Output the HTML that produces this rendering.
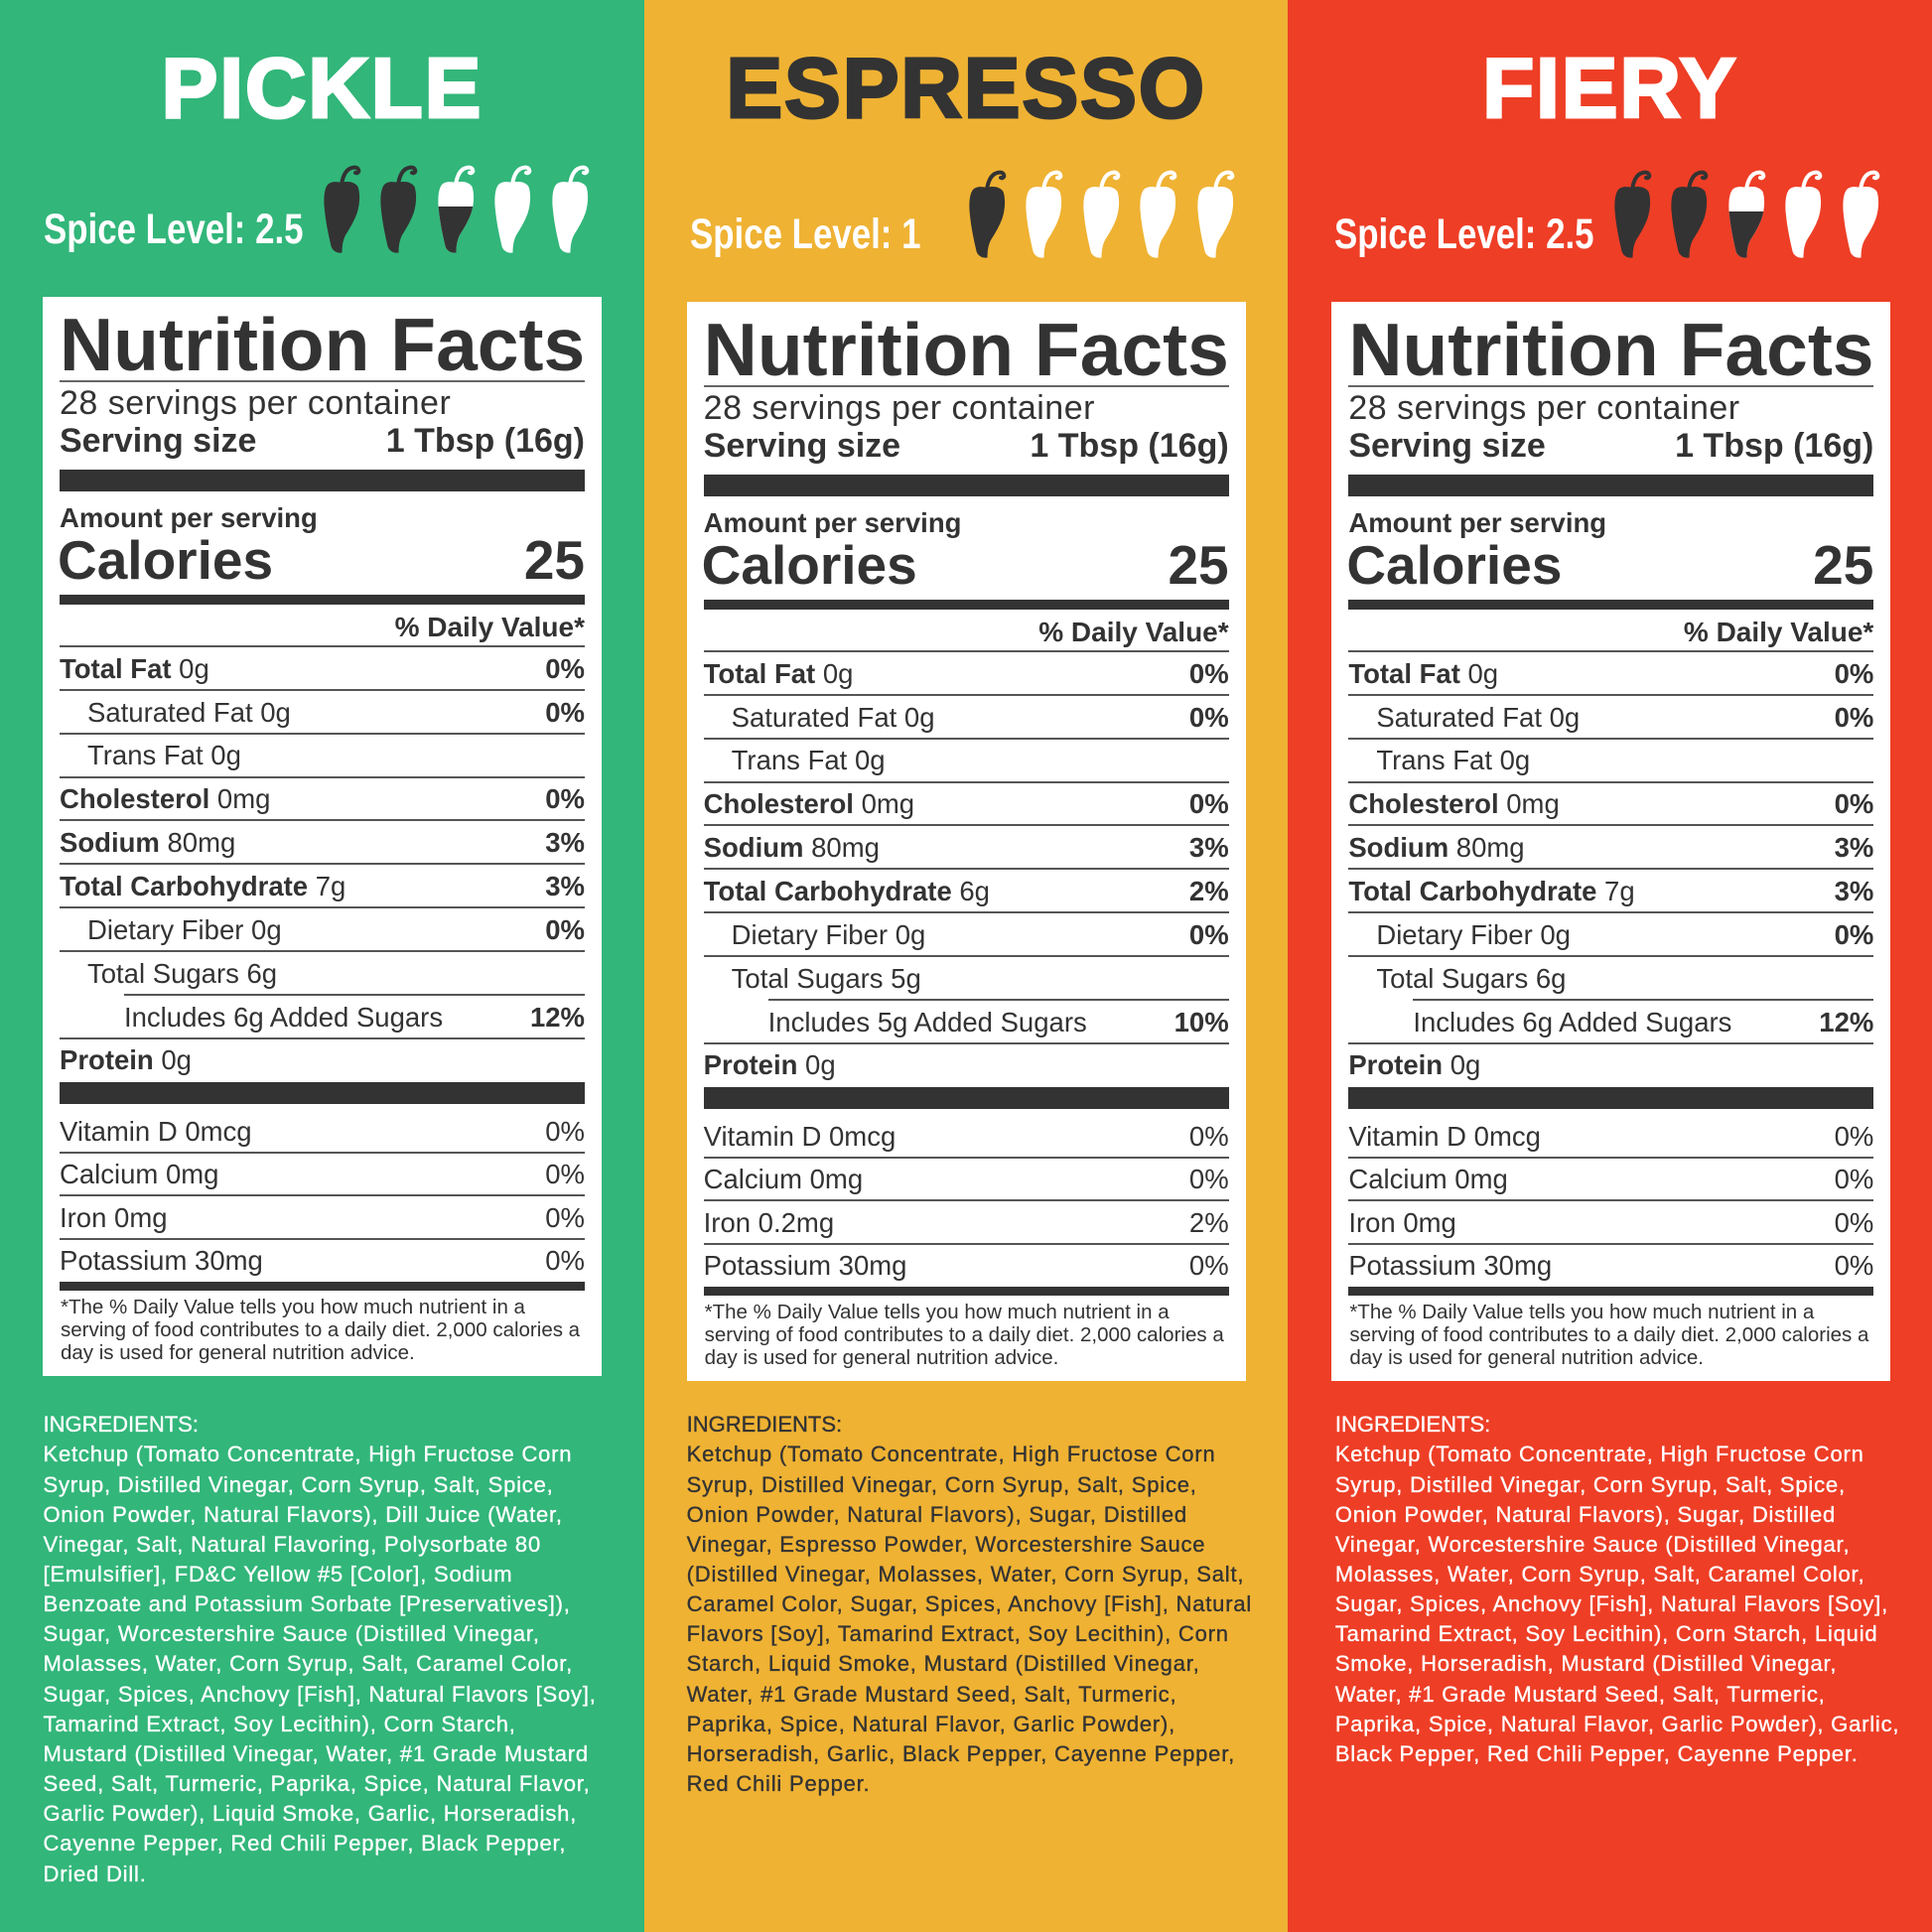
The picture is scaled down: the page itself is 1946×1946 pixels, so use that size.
<!DOCTYPE html>
<html><head><meta charset="utf-8">
<style>
html,body{margin:0;padding:0;}
body{width:1946px;height:1946px;position:relative;overflow:hidden;font-family:"Liberation Sans",Arial,sans-serif;}
.c{position:absolute;top:0;width:649px;height:1946px;overflow:hidden;}
.w{position:absolute;left:0;top:0;width:649px;height:1946px;}
.t{position:absolute;line-height:1;white-space:nowrap;color:#333;}
.r{right:60px;text-align:right;}
.b{font-weight:bold;}
.title{position:absolute;left:0;width:649px;top:47px;text-align:center;font-size:85px;line-height:1;font-weight:bold;letter-spacing:2px;white-space:nowrap;}
.spice{position:absolute;top:211px;font-size:42.5px;line-height:1;font-weight:bold;color:#fff;white-space:nowrap;transform:scaleX(0.82);transform-origin:0 0;}
.box{position:absolute;left:43px;top:299px;width:563px;height:1087px;background:#fff;}
.ln{position:absolute;height:2px;background:#555;}
.bar{position:absolute;left:60px;width:529px;background:#333;}
.rw{font-size:27.5px;}
.fn{font-size:20.5px;}
.ing{position:absolute;top:1420.2px;font-size:22px;line-height:30.15px;letter-spacing:0.8px;white-space:nowrap;-webkit-text-stroke:0.35px currentColor;}
.ing .h{letter-spacing:0;}
svg.pp{position:absolute;left:0;top:0;}
</style></head>
<body>
<svg width="0" height="0" style="position:absolute">
<defs>
<g id="pk">
<path d="M4,19 C8,15 14,16 18,17 C24,15 31,16 34.5,21 C37,28 36.5,39 33.5,48 C31,55 27,62 22.5,69 C19.5,74 18.5,81 18.5,87.5 C13,88.5 8.5,85 7.5,81 C5.5,72 2,58 0.5,40 C0,30 1,23 4,19 Z" fill="#333"/>
<path d="M18,19 C19,12 21,6 26,3 C30,1 34,1 35,4 C36,6 34,8 32,7" fill="none" stroke="#333" stroke-width="4" stroke-linecap="round"/>
</g>
<g id="pw">
<path d="M4,19 C8,15 14,16 18,17 C24,15 31,16 34.5,21 C37,28 36.5,39 33.5,48 C31,55 27,62 22.5,69 C19.5,74 18.5,81 18.5,87.5 C13,88.5 8.5,85 7.5,81 C5.5,72 2,58 0.5,40 C0,30 1,23 4,19 Z" fill="#fff"/>
<path d="M18,19 C19,12 21,6 26,3 C30,1 34,1 35,4 C36,6 34,8 32,7" fill="none" stroke="#fff" stroke-width="4" stroke-linecap="round"/>
</g>
<clipPath id="half" clipPathUnits="userSpaceOnUse"><rect x="-5" y="41" width="50" height="60"/></clipPath>
</defs>
</svg>

<!-- ============ COLUMN 1 : PICKLE ============ -->
<div class="c" style="left:0;background:#32b67a;">
<div class="title" style="color:#fff;-webkit-text-stroke:3px #fff;">PICKLE</div>
<div class="w" style="top:0;">
<div class="spice" style="left:44px;">Spice Level: 2.5</div>
<svg class="pp" width="649" height="300">
<g transform="translate(326,167)"><use href="#pk"/></g>
<g transform="translate(383,167)"><use href="#pk"/></g>
<g transform="translate(441,167)"><use href="#pw"/><use href="#pk" clip-path="url(#half)"/></g>
<g transform="translate(498,167)"><use href="#pw"/></g>
<g transform="translate(556,167)"><use href="#pw"/></g>
</svg>
<div class="box"></div>
<div class="t b" style="left:60px;top:309.5px;font-size:75px;">Nutrition Facts</div>
<div class="ln" style="left:60px;width:529px;top:383px;background:#666;"></div>
<div class="t" style="left:60px;top:389.2px;font-size:34px;letter-spacing:0.5px;">28 servings per container</div>
<div class="t b" style="left:60px;top:427.2px;font-size:34px;">Serving size</div>
<div class="t b r" style="top:427.2px;font-size:34px;">1 Tbsp (16g)</div>
<div class="bar" style="top:473px;height:22px;"></div>
<div class="t b" style="left:60px;top:507.7px;font-size:27.5px;">Amount per serving</div>
<div class="t b" style="left:58px;top:537.4px;font-size:55px;">Calories</div>
<div class="t b r" style="top:537.4px;font-size:55px;">25</div>
<div class="bar" style="top:599px;height:10px;"></div>
<div class="t b r" style="top:617.8px;font-size:28px;">% Daily Value*</div>
<div class="ln" style="left:60px;width:529px;top:650px;"></div>

<div class="t rw" style="left:60px;top:659.7px;"><b>Total Fat</b> 0g</div><div class="t rw b r" style="top:659.7px;">0%</div>
<div class="ln" style="left:60px;width:529px;top:693.9px;"></div>
<div class="t rw" style="left:88px;top:703.6px;">Saturated Fat 0g</div><div class="t rw b r" style="top:703.6px;">0%</div>
<div class="ln" style="left:60px;width:529px;top:737.7px;"></div>
<div class="t rw" style="left:88px;top:747.4px;">Trans Fat 0g</div>
<div class="ln" style="left:60px;width:529px;top:781.6px;"></div>
<div class="t rw" style="left:60px;top:791.3px;"><b>Cholesterol</b> 0mg</div><div class="t rw b r" style="top:791.3px;">0%</div>
<div class="ln" style="left:60px;width:529px;top:825.4px;"></div>
<div class="t rw" style="left:60px;top:835.1px;"><b>Sodium</b> 80mg</div><div class="t rw b r" style="top:835.1px;">3%</div>
<div class="ln" style="left:60px;width:529px;top:869.3px;"></div>
<div class="t rw" style="left:60px;top:879px;"><b>Total Carbohydrate</b> 7g</div><div class="t rw b r" style="top:879px;">3%</div>
<div class="ln" style="left:60px;width:529px;top:913.1px;"></div>
<div class="t rw" style="left:88px;top:922.8px;">Dietary Fiber 0g</div><div class="t rw b r" style="top:922.8px;">0%</div>
<div class="ln" style="left:60px;width:529px;top:957px;"></div>
<div class="t rw" style="left:88px;top:966.7px;">Total Sugars 6g</div>
<div class="ln" style="left:125px;width:464px;top:1000.8px;"></div>
<div class="t rw" style="left:125px;top:1010.5px;">Includes 6g Added Sugars</div><div class="t rw b r" style="top:1010.5px;">12%</div>
<div class="ln" style="left:60px;width:529px;top:1044.7px;"></div>
<div class="t rw" style="left:60px;top:1054.4px;"><b>Protein</b> 0g</div>
<div class="bar" style="top:1090px;height:22px;"></div>

<div class="t rw" style="left:60px;top:1125.7px;">Vitamin D 0mcg</div><div class="t rw r" style="top:1125.7px;">0%</div>
<div class="ln" style="left:60px;width:529px;top:1159.5px;"></div>
<div class="t rw" style="left:60px;top:1169.1px;">Calcium 0mg</div><div class="t rw r" style="top:1169.1px;">0%</div>
<div class="ln" style="left:60px;width:529px;top:1203px;"></div>
<div class="t rw" style="left:60px;top:1212.5px;">Iron 0mg</div><div class="t rw r" style="top:1212.5px;">0%</div>
<div class="ln" style="left:60px;width:529px;top:1246.5px;"></div>
<div class="t rw" style="left:60px;top:1255.9px;">Potassium 30mg</div><div class="t rw r" style="top:1255.9px;">0%</div>
<div class="bar" style="top:1291px;height:9px;"></div>
<div class="t fn" style="left:61px;top:1306.6px;">*The % Daily Value tells you how much nutrient in a</div>
<div class="t fn" style="left:61px;top:1329.6px;">serving of food contributes to a daily diet. 2,000 calories a</div>
<div class="t fn" style="left:61px;top:1352.6px;">day is used for general nutrition advice.</div>
</div>
<div class="ing" style="left:43.5px;color:#fff;"><span class="h">INGREDIENTS:</span><br>Ketchup (Tomato Concentrate, High Fructose Corn<br>Syrup, Distilled Vinegar, Corn Syrup, Salt, Spice,<br>Onion Powder, Natural Flavors), Dill Juice (Water,<br>Vinegar, Salt, Natural Flavoring, Polysorbate 80<br>[Emulsifier], FD&amp;C Yellow #5 [Color], Sodium<br>Benzoate and Potassium Sorbate [Preservatives]),<br>Sugar, Worcestershire Sauce (Distilled Vinegar,<br>Molasses, Water, Corn Syrup, Salt, Caramel Color,<br>Sugar, Spices, Anchovy [Fish], Natural Flavors [Soy],<br>Tamarind Extract, Soy Lecithin), Corn Starch,<br>Mustard (Distilled Vinegar, Water, #1 Grade Mustard<br>Seed, Salt, Turmeric, Paprika, Spice, Natural Flavor,<br>Garlic Powder), Liquid Smoke, Garlic, Horseradish,<br>Cayenne Pepper, Red Chili Pepper, Black Pepper,<br>Dried Dill.</div>
</div>

<!-- ============ COLUMN 2 : ESPRESSO ============ -->
<div class="c" style="left:648.67px;background:#efb233;">
<div class="title" style="color:#333;-webkit-text-stroke:3px #333;">ESPRESSO</div>
<div class="w" style="top:5px;">
<div class="spice" style="left:46px;">Spice Level: 1</div>
<svg class="pp" width="649" height="300">
<g transform="translate(327,167)"><use href="#pk"/></g>
<g transform="translate(384,167)"><use href="#pw"/></g>
<g transform="translate(442,167)"><use href="#pw"/></g>
<g transform="translate(499,167)"><use href="#pw"/></g>
<g transform="translate(557,167)"><use href="#pw"/></g>
</svg>
<div class="box"></div>
<div class="t b" style="left:60px;top:309.5px;font-size:75px;">Nutrition Facts</div>
<div class="ln" style="left:60px;width:529px;top:383px;background:#666;"></div>
<div class="t" style="left:60px;top:389.2px;font-size:34px;letter-spacing:0.5px;">28 servings per container</div>
<div class="t b" style="left:60px;top:427.2px;font-size:34px;">Serving size</div>
<div class="t b r" style="top:427.2px;font-size:34px;">1 Tbsp (16g)</div>
<div class="bar" style="top:473px;height:22px;"></div>
<div class="t b" style="left:60px;top:507.7px;font-size:27.5px;">Amount per serving</div>
<div class="t b" style="left:58px;top:537.4px;font-size:55px;">Calories</div>
<div class="t b r" style="top:537.4px;font-size:55px;">25</div>
<div class="bar" style="top:599px;height:10px;"></div>
<div class="t b r" style="top:617.8px;font-size:28px;">% Daily Value*</div>
<div class="ln" style="left:60px;width:529px;top:650px;"></div>

<div class="t rw" style="left:60px;top:659.7px;"><b>Total Fat</b> 0g</div><div class="t rw b r" style="top:659.7px;">0%</div>
<div class="ln" style="left:60px;width:529px;top:693.9px;"></div>
<div class="t rw" style="left:88px;top:703.6px;">Saturated Fat 0g</div><div class="t rw b r" style="top:703.6px;">0%</div>
<div class="ln" style="left:60px;width:529px;top:737.7px;"></div>
<div class="t rw" style="left:88px;top:747.4px;">Trans Fat 0g</div>
<div class="ln" style="left:60px;width:529px;top:781.6px;"></div>
<div class="t rw" style="left:60px;top:791.3px;"><b>Cholesterol</b> 0mg</div><div class="t rw b r" style="top:791.3px;">0%</div>
<div class="ln" style="left:60px;width:529px;top:825.4px;"></div>
<div class="t rw" style="left:60px;top:835.1px;"><b>Sodium</b> 80mg</div><div class="t rw b r" style="top:835.1px;">3%</div>
<div class="ln" style="left:60px;width:529px;top:869.3px;"></div>
<div class="t rw" style="left:60px;top:879px;"><b>Total Carbohydrate</b> 6g</div><div class="t rw b r" style="top:879px;">2%</div>
<div class="ln" style="left:60px;width:529px;top:913.1px;"></div>
<div class="t rw" style="left:88px;top:922.8px;">Dietary Fiber 0g</div><div class="t rw b r" style="top:922.8px;">0%</div>
<div class="ln" style="left:60px;width:529px;top:957px;"></div>
<div class="t rw" style="left:88px;top:966.7px;">Total Sugars 5g</div>
<div class="ln" style="left:125px;width:464px;top:1000.8px;"></div>
<div class="t rw" style="left:125px;top:1010.5px;">Includes 5g Added Sugars</div><div class="t rw b r" style="top:1010.5px;">10%</div>
<div class="ln" style="left:60px;width:529px;top:1044.7px;"></div>
<div class="t rw" style="left:60px;top:1054.4px;"><b>Protein</b> 0g</div>
<div class="bar" style="top:1090px;height:22px;"></div>

<div class="t rw" style="left:60px;top:1125.7px;">Vitamin D 0mcg</div><div class="t rw r" style="top:1125.7px;">0%</div>
<div class="ln" style="left:60px;width:529px;top:1159.5px;"></div>
<div class="t rw" style="left:60px;top:1169.1px;">Calcium 0mg</div><div class="t rw r" style="top:1169.1px;">0%</div>
<div class="ln" style="left:60px;width:529px;top:1203px;"></div>
<div class="t rw" style="left:60px;top:1212.5px;">Iron 0.2mg</div><div class="t rw r" style="top:1212.5px;">2%</div>
<div class="ln" style="left:60px;width:529px;top:1246.5px;"></div>
<div class="t rw" style="left:60px;top:1255.9px;">Potassium 30mg</div><div class="t rw r" style="top:1255.9px;">0%</div>
<div class="bar" style="top:1291px;height:9px;"></div>
<div class="t fn" style="left:61px;top:1306.6px;">*The % Daily Value tells you how much nutrient in a</div>
<div class="t fn" style="left:61px;top:1329.6px;">serving of food contributes to a daily diet. 2,000 calories a</div>
<div class="t fn" style="left:61px;top:1352.6px;">day is used for general nutrition advice.</div>
</div>
<div class="ing" style="left:43px;color:#333;"><span class="h">INGREDIENTS:</span><br>Ketchup (Tomato Concentrate, High Fructose Corn<br>Syrup, Distilled Vinegar, Corn Syrup, Salt, Spice,<br>Onion Powder, Natural Flavors), Sugar, Distilled<br>Vinegar, Espresso Powder, Worcestershire Sauce<br>(Distilled Vinegar, Molasses, Water, Corn Syrup, Salt,<br>Caramel Color, Sugar, Spices, Anchovy [Fish], Natural<br>Flavors [Soy], Tamarind Extract, Soy Lecithin), Corn<br>Starch, Liquid Smoke, Mustard (Distilled Vinegar,<br>Water, #1 Grade Mustard Seed, Salt, Turmeric,<br>Paprika, Spice, Natural Flavor, Garlic Powder),<br>Horseradish, Garlic, Black Pepper, Cayenne Pepper,<br>Red Chili Pepper.</div>
</div>

<!-- ============ COLUMN 3 : FIERY ============ -->
<div class="c" style="left:1297.33px;width:648.67px;background:#ee3e26;">
<div class="title" style="color:#fff;-webkit-text-stroke:3px #fff;">FIERY</div>
<div class="w" style="top:5px;left:1px;">
<div class="spice" style="left:46px;">Spice Level: 2.5</div>
<svg class="pp" width="649" height="300">
<g transform="translate(328,167)"><use href="#pk"/></g>
<g transform="translate(385,167)"><use href="#pk"/></g>
<g transform="translate(443,167)"><use href="#pw"/><use href="#pk" clip-path="url(#half)"/></g>
<g transform="translate(500,167)"><use href="#pw"/></g>
<g transform="translate(558,167)"><use href="#pw"/></g>
</svg>
<div class="box"></div>
<div class="t b" style="left:60px;top:309.5px;font-size:75px;">Nutrition Facts</div>
<div class="ln" style="left:60px;width:529px;top:383px;background:#666;"></div>
<div class="t" style="left:60px;top:389.2px;font-size:34px;letter-spacing:0.5px;">28 servings per container</div>
<div class="t b" style="left:60px;top:427.2px;font-size:34px;">Serving size</div>
<div class="t b r" style="top:427.2px;font-size:34px;">1 Tbsp (16g)</div>
<div class="bar" style="top:473px;height:22px;"></div>
<div class="t b" style="left:60px;top:507.7px;font-size:27.5px;">Amount per serving</div>
<div class="t b" style="left:58px;top:537.4px;font-size:55px;">Calories</div>
<div class="t b r" style="top:537.4px;font-size:55px;">25</div>
<div class="bar" style="top:599px;height:10px;"></div>
<div class="t b r" style="top:617.8px;font-size:28px;">% Daily Value*</div>
<div class="ln" style="left:60px;width:529px;top:650px;"></div>

<div class="t rw" style="left:60px;top:659.7px;"><b>Total Fat</b> 0g</div><div class="t rw b r" style="top:659.7px;">0%</div>
<div class="ln" style="left:60px;width:529px;top:693.9px;"></div>
<div class="t rw" style="left:88px;top:703.6px;">Saturated Fat 0g</div><div class="t rw b r" style="top:703.6px;">0%</div>
<div class="ln" style="left:60px;width:529px;top:737.7px;"></div>
<div class="t rw" style="left:88px;top:747.4px;">Trans Fat 0g</div>
<div class="ln" style="left:60px;width:529px;top:781.6px;"></div>
<div class="t rw" style="left:60px;top:791.3px;"><b>Cholesterol</b> 0mg</div><div class="t rw b r" style="top:791.3px;">0%</div>
<div class="ln" style="left:60px;width:529px;top:825.4px;"></div>
<div class="t rw" style="left:60px;top:835.1px;"><b>Sodium</b> 80mg</div><div class="t rw b r" style="top:835.1px;">3%</div>
<div class="ln" style="left:60px;width:529px;top:869.3px;"></div>
<div class="t rw" style="left:60px;top:879px;"><b>Total Carbohydrate</b> 7g</div><div class="t rw b r" style="top:879px;">3%</div>
<div class="ln" style="left:60px;width:529px;top:913.1px;"></div>
<div class="t rw" style="left:88px;top:922.8px;">Dietary Fiber 0g</div><div class="t rw b r" style="top:922.8px;">0%</div>
<div class="ln" style="left:60px;width:529px;top:957px;"></div>
<div class="t rw" style="left:88px;top:966.7px;">Total Sugars 6g</div>
<div class="ln" style="left:125px;width:464px;top:1000.8px;"></div>
<div class="t rw" style="left:125px;top:1010.5px;">Includes 6g Added Sugars</div><div class="t rw b r" style="top:1010.5px;">12%</div>
<div class="ln" style="left:60px;width:529px;top:1044.7px;"></div>
<div class="t rw" style="left:60px;top:1054.4px;"><b>Protein</b> 0g</div>
<div class="bar" style="top:1090px;height:22px;"></div>

<div class="t rw" style="left:60px;top:1125.7px;">Vitamin D 0mcg</div><div class="t rw r" style="top:1125.7px;">0%</div>
<div class="ln" style="left:60px;width:529px;top:1159.5px;"></div>
<div class="t rw" style="left:60px;top:1169.1px;">Calcium 0mg</div><div class="t rw r" style="top:1169.1px;">0%</div>
<div class="ln" style="left:60px;width:529px;top:1203px;"></div>
<div class="t rw" style="left:60px;top:1212.5px;">Iron 0mg</div><div class="t rw r" style="top:1212.5px;">0%</div>
<div class="ln" style="left:60px;width:529px;top:1246.5px;"></div>
<div class="t rw" style="left:60px;top:1255.9px;">Potassium 30mg</div><div class="t rw r" style="top:1255.9px;">0%</div>
<div class="bar" style="top:1291px;height:9px;"></div>
<div class="t fn" style="left:61px;top:1306.6px;">*The % Daily Value tells you how much nutrient in a</div>
<div class="t fn" style="left:61px;top:1329.6px;">serving of food contributes to a daily diet. 2,000 calories a</div>
<div class="t fn" style="left:61px;top:1352.6px;">day is used for general nutrition advice.</div>
</div>
<div class="ing" style="left:47.5px;color:#fff;"><span class="h">INGREDIENTS:</span><br>Ketchup (Tomato Concentrate, High Fructose Corn<br>Syrup, Distilled Vinegar, Corn Syrup, Salt, Spice,<br>Onion Powder, Natural Flavors), Sugar, Distilled<br>Vinegar, Worcestershire Sauce (Distilled Vinegar,<br>Molasses, Water, Corn Syrup, Salt, Caramel Color,<br>Sugar, Spices, Anchovy [Fish], Natural Flavors [Soy],<br>Tamarind Extract, Soy Lecithin), Corn Starch, Liquid<br>Smoke, Horseradish, Mustard (Distilled Vinegar,<br>Water, #1 Grade Mustard Seed, Salt, Turmeric,<br>Paprika, Spice, Natural Flavor, Garlic Powder), Garlic,<br>Black Pepper, Red Chili Pepper, Cayenne Pepper.</div>
</div>

</body></html>
